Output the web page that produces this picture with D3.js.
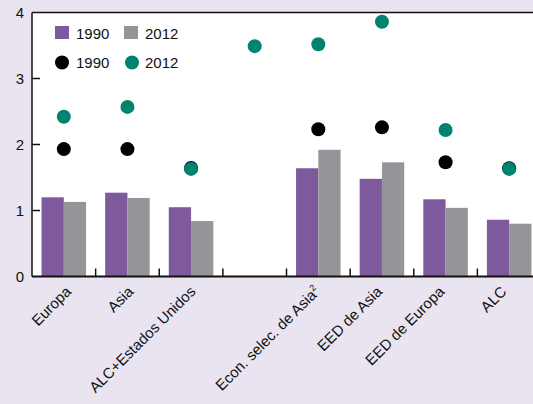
<!DOCTYPE html>
<html><head><meta charset="utf-8">
<script src="https://cdn.jsdelivr.net/npm/d3@7"></script>
<style>body{margin:0;background:#E9E4F0;}svg{display:block;font-family:"Liberation Sans",Arial,sans-serif;}</style>
</head><body>
<svg id="c" width="533" height="404"></svg>
<script>
const categories = ["Europa","Asia","ALC+Estados Unidos","","Econ. selec. de Asia","EED de Asia","EED de Europa","ALC"];
const barSeries = ["1990","2012"];
const bars1990 = [1.20, 1.27, 1.05, null, 1.64, 1.48, 1.17, 0.86];
const bars2012 = [1.13, 1.19, 0.84, null, 1.92, 1.73, 1.04, 0.80];
const dots1990 = [1.93, 1.93, 1.645, null, 2.23, 2.26, 1.73, 1.64];
const dots2012 = [2.42, 2.57, 1.63, 3.49, 3.52, 3.86, 2.22, 1.63];
const yTicks = [0,1,2,3,4];
const colors = {bar1990:"#7E5A9D", bar2012:"#939598", dot1990:"#000000", dot2012:"#00836F"};

const svg = d3.select("#c");
const mLeft = 32, mTop = 12.5, mBottom = 276.5, mRight = 541;
const fs = 15;
const x = d3.scaleBand().domain(categories.map((d,i)=>i)).range([mLeft, mRight]).padding(0);
const xs = d3.scaleBand().domain(barSeries).range([x.bandwidth()*0.15, x.bandwidth()*0.85]).padding(0);
const xLab = d3.scaleBand().domain(categories.map((d,i)=>i)).range([mLeft+9, mLeft+9+8*62.2]).padding(0);
const y = d3.scaleLinear().domain([0,4]).range([mBottom, mTop]);

// plot area
svg.append("rect").attr("x", mLeft).attr("y", mTop).attr("width", 533-mLeft).attr("height", mBottom-mTop).attr("fill","#fff");

// bars
const barData = [];
categories.forEach((c,i)=>{
  if (bars1990[i]!=null) barData.push({i, s:"1990", v:bars1990[i], col:colors.bar1990});
  if (bars2012[i]!=null) barData.push({i, s:"2012", v:bars2012[i], col:colors.bar2012});
});
svg.append("g").selectAll("rect").data(barData).join("rect")
  .attr("x", d=>x(d.i)+xs(d.s)).attr("width", xs.bandwidth())
  .attr("y", d=>y(d.v)).attr("height", d=>y(0)-y(d.v)).attr("fill", d=>d.col);

// dots
const dotR = 7;
svg.append("g").selectAll("circle").data(dots1990.map((v,i)=>({i,v})).filter(d=>d.v!=null)).join("circle")
  .attr("cx", d=>x(d.i)+x.bandwidth()/2).attr("cy", d=>y(d.v)).attr("r", dotR).attr("fill", colors.dot1990);
svg.append("g").selectAll("circle").data(dots2012.map((v,i)=>({i,v})).filter(d=>d.v!=null)).join("circle")
  .attr("cx", d=>x(d.i)+x.bandwidth()/2).attr("cy", d=>y(d.v)).attr("r", dotR).attr("fill", colors.dot2012);

// frame lines
svg.append("line").attr("x1", mLeft).attr("x2", 533).attr("y1", mTop).attr("y2", mTop).attr("stroke","#111").attr("stroke-width",1.5);
svg.append("line").attr("x1", mLeft).attr("x2", mLeft).attr("y1", mTop).attr("y2", mBottom).attr("stroke","#111").attr("stroke-width",1.5);
svg.append("line").attr("x1", mLeft).attr("x2", 533).attr("y1", mBottom).attr("y2", mBottom).attr("stroke","#111").attr("stroke-width",2);

// y axis
const yAxis = d3.axisLeft(y).tickValues(yTicks).tickSize(0).tickPadding(8).tickFormat(d3.format("d"));
const ya = svg.append("g").attr("transform", `translate(${mLeft},0)`).call(yAxis);
ya.select(".domain").remove();
ya.selectAll("text").attr("font-size", fs).attr("fill","#111").attr("font-family","Liberation Sans, Arial, sans-serif");
svg.append("g").selectAll("line").data(yTicks.filter(d=>d>0&&d<4)).join("line")
  .attr("x1", mLeft).attr("x2", mLeft+8).attr("y1", d=>y(d)).attr("y2", d=>y(d)).attr("stroke","#111").attr("stroke-width",1.5);

// x boundary ticks
svg.append("g").selectAll("line").data(categories.map((c,i)=>i).slice(1)).join("line")
  .attr("x1", d=>x(d)).attr("x2", d=>x(d)).attr("y1", mBottom).attr("y2", mBottom-8).attr("stroke","#111").attr("stroke-width",1.5);

// x labels
const lab = svg.append("g").selectAll("text").data(categories.map((c,i)=>({c,i})).filter(d=>d.c!=="")).join("text")
  .attr("transform", d=>`translate(${xLab(d.i)+xLab.bandwidth()/2},${mBottom+16}) rotate(-45)`)
  .attr("text-anchor","end").attr("font-size",fs).attr("fill","#111")
  .text(d=>d.c);
lab.filter(d=>d.c==="Econ. selec. de Asia").append("tspan").attr("font-size",9).attr("dy",-6).text("2");

// legend
const lg = svg.append("g");
lg.append("rect").attr("x",55).attr("y",26).attr("width",14).attr("height",13).attr("fill",colors.bar1990);
lg.append("text").attr("x",76).attr("y",38.5).attr("font-size",fs).attr("fill","#111").text("1990");
lg.append("rect").attr("x",124).attr("y",26).attr("width",14).attr("height",13).attr("fill",colors.bar2012);
lg.append("text").attr("x",145).attr("y",38.5).attr("font-size",fs).attr("fill","#111").text("2012");
lg.append("circle").attr("cx",62).attr("cy",62.5).attr("r",dotR).attr("fill",colors.dot1990);
lg.append("text").attr("x",76).attr("y",67.5).attr("font-size",fs).attr("fill","#111").text("1990");
lg.append("circle").attr("cx",132).attr("cy",62.5).attr("r",dotR).attr("fill",colors.dot2012);
lg.append("text").attr("x",145).attr("y",67.5).attr("font-size",fs).attr("fill","#111").text("2012");
</script>
</body></html>
